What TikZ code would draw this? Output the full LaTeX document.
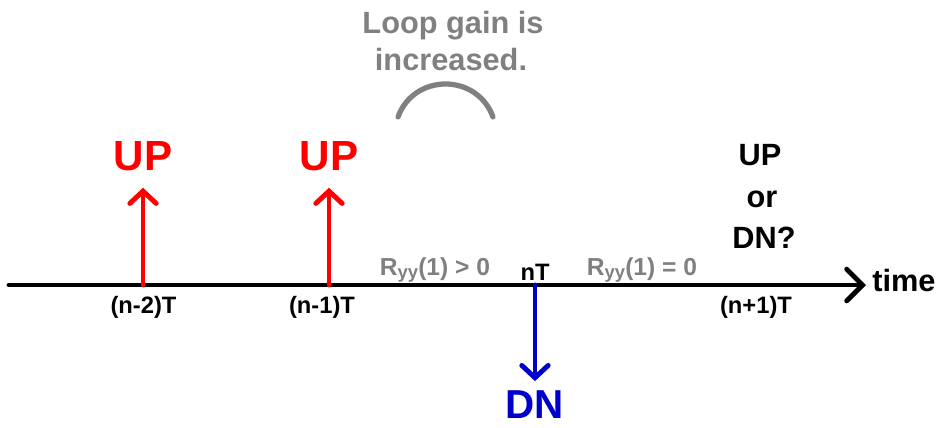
\documentclass[tikz,border=0pt]{standalone}
\usepackage{fontspec}
\setmainfont{Liberation Sans}
\usetikzlibrary{arrows.meta}
\definecolor{upred}{RGB}{255,0,0}
\definecolor{dnblue}{RGB}{0,0,205}
\definecolor{notegray}{RGB}{128,128,128}
\newcommand{\Ryy}{R\raisebox{-0.25ex}{\fontsize{10.5}{11}\selectfont yy}}

\begin{document}
\begin{tikzpicture}[x=0.02cm, y=-0.02cm, line cap=round, line join=round,
  every node/.style={inner sep=0pt},
  ticklabel/.style={font=\fontsize{13.5}{16}\selectfont\bfseries, anchor=base},
  notelabel/.style={font=\fontsize{14}{16}\selectfont\bfseries, text=notegray, anchor=base},
  bignote/.style={font=\fontsize{17.5}{21}\selectfont\bfseries, text=notegray, anchor=base},
  query/.style={font=\fontsize{17.5}{21}\selectfont\bfseries, anchor=base},
  pulselabel/.style={font=\fontsize{24}{28}\selectfont\bfseries},
  pulse/.style={line width=2.8pt, -{Straight Barb[length=7pt, width=15pt, line cap=round]}},
  axisline/.style={line width=2.8pt, -{Straight Barb[length=9pt, width=18pt, line cap=round]}}]
  \useasboundingbox (0,0) rectangle (941,427);

  % time axis
  \coordinate (a0) at (9,285);
  \coordinate (a1) at (866,285);
  \draw[axisline] (a0) -- (a1);
  \node[query, anchor=base west] (time) at (872,291) {time};

  % sample instants
  \node[ticklabel] (t1) at (143.5,313) {(n-2)T};
  \node[ticklabel] (t2) at (322,313) {(n-1)T};
  \node[ticklabel] (t3) at (535,280) {nT};
  \node[ticklabel] (t4) at (756,313) {(n+1)T};

  % UP / DN decisions
  \coordinate (p1) at (143,285);
  \coordinate (p2) at (329,285);
  \coordinate (p3) at (535,285);
  \node[pulselabel, text=upred] (up1) at (143,156) {UP};
  \node[pulselabel, text=upred] (up2) at (329,156) {UP};
  \node[pulselabel, text=dnblue, font=\fontsize{23}{27}\selectfont\bfseries] (dn3) at (535,405) {DN};
  \draw[pulse, upred, shorten >=9.5pt] (p1) -- (up1);
  \draw[pulse, upred, shorten >=9.5pt] (p2) -- (up2);
  \draw[pulse, dnblue, shorten >=5.5pt] (p3) -- (dn3);

  % correlation notes
  \node[notelabel] (r1) at (435,275) {\Ryy(1) > 0};
  \node[notelabel] (r2) at (642,275) {\Ryy(1) = 0};

  % loop gain note
  \node[bignote] (g1) at (453,33) {Loop gain is};
  \node[bignote] (g2) at (451,70) {increased.};
  \draw[notegray, line width=3pt] (398,117) .. controls (414,73) and (477,73) .. (493,117);

  % next decision
  \node[query] (q1) at (760,165) {UP};
  \node[query] (q2) at (762,207) {or};
  \node[query] (q3) at (764,248) {DN?};
\end{tikzpicture}
\end{document}
